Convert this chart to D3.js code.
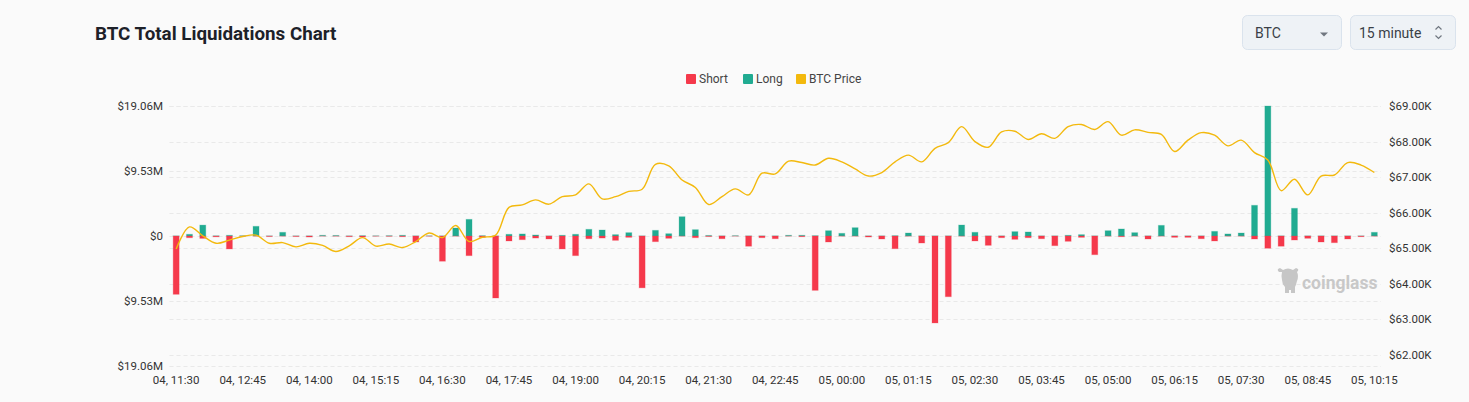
<!DOCTYPE html>
<html>
<head>
<meta charset="utf-8">
<script src="https://cdn.jsdelivr.net/npm/d3@7"></script>
<style>
  body { margin: 0; background: #fafafa; font-family: Roboto, "Noto Sans", sans-serif; }
  .tick-label { font-size: 11.5px; fill: #333; }
  .legend-text { font-size: 12px; fill: #444; }
</style>
</head>
<body>
<div id="chart"></div>
<script>
// Category labels (15 minute buckets)
var times = [
  "04, 11:30","04, 11:45","04, 12:00","04, 12:15","04, 12:30","04, 12:45","04, 13:00","04, 13:15","04, 13:30","04, 13:45",
  "04, 14:00","04, 14:15","04, 14:30","04, 14:45","04, 15:00","04, 15:15","04, 15:30","04, 15:45","04, 16:00","04, 16:15",
  "04, 16:30","04, 16:45","04, 17:00","04, 17:15","04, 17:30","04, 17:45","04, 18:00","04, 18:15","04, 18:30","04, 18:45",
  "04, 19:00","04, 19:15","04, 19:30","04, 19:45","04, 20:00","04, 20:15","04, 20:30","04, 20:45","04, 21:00","04, 21:15",
  "04, 21:30","04, 21:45","04, 22:00","04, 22:15","04, 22:30","04, 22:45","04, 23:00","04, 23:15","04, 23:30","04, 23:45",
  "05, 00:00","05, 00:15","05, 00:30","05, 00:45","05, 01:00","05, 01:15","05, 01:30","05, 01:45","05, 02:00","05, 02:15",
  "05, 02:30","05, 02:45","05, 03:00","05, 03:15","05, 03:30","05, 03:45","05, 04:00","05, 04:15","05, 04:30","05, 04:45",
  "05, 05:00","05, 05:15","05, 05:30","05, 05:45","05, 06:00","05, 06:15","05, 06:30","05, 06:45","05, 07:00","05, 07:15",
  "05, 07:30","05, 07:45","05, 08:00","05, 08:15","05, 08:30","05, 08:45","05, 09:00","05, 09:15","05, 09:30","05, 09:45",
  "05, 10:15"
];

// Short liquidations ($M, drawn below zero)
var shortVals = [
  8.55, 0.25, 0.35, 0.12, 1.9, 0.04, 0.02, 0.08, 0.02, 0.08,
  0.15, 0.02, 0.03, 0.1, 0.15, 0.03, 0.05, 0.1, 0.88, 0.03,
  3.7, 0.02, 2.88, 0.2, 9.09, 0.73, 0.54, 0.3, 0.44, 1.9,
  2.88, 0.4, 0.3, 0.64, 0.2, 7.6, 0.83, 0.34, 0.02, 0.25,
  0.08, 0.4, 0.02, 1.5, 0.25, 0.4, 0.02, 0.1, 7.97, 0.88,
  0.02, 0.02, 0.15, 0.44, 1.86, 0.02, 1.03, 12.75, 8.9, 0.02,
  0.73, 1.37, 0.25, 0.49, 0.25, 0.4, 1.42, 0.78, 0.2, 2.74,
  0.02, 0.1, 0.02, 0.44, 0.02, 0.2, 0.2, 0.4, 0.73, 0.02,
  0.02, 0.44, 1.8, 1.5, 0.59, 0.34, 0.88, 0.98, 0.44, 0.1,
  0.02
];

// Long liquidations ($M, drawn above zero)
var longVals = [
  0.02, 0.25, 1.6, 0.03, 0.1, 0.04, 1.42, 0.02, 0.54, 0.02,
  0.02, 0.1, 0.08, 0.02, 0.05, 0.03, 0.05, 0.1, 0.02, 0.03,
  0.02, 1.17, 2.44, 0.05, 0.02, 0.25, 0.3, 0.15, 0.02, 0.1,
  0.25, 0.98, 0.88, 0.2, 0.49, 0.02, 0.83, 0.34, 2.83, 0.93,
  0.08, 0.02, 0.05, 0.02, 0.02, 0.02, 0.1, 0.1, 0.05, 0.78,
  0.39, 1.22, 0.02, 0.02, 0.05, 0.44, 0.02, 0.02, 0.02, 1.61,
  0.54, 0.02, 0.02, 0.64, 0.59, 0.02, 0.02, 0.1, 0.2, 0.02,
  0.78, 1.03, 0.49, 0.02, 1.56, 0.02, 0.02, 0.02, 0.68, 0.3,
  0.44, 4.5, 19.06, 0.02, 4.06, 0.02, 0.02, 0.02, 0.02, 0.02,
  0.54
];

// BTC price ($K)
var priceVals = [
  64.98, 65.6, 65.35, 65.14, 65.23, 65.33, 65.37, 65.14, 65.16, 65.04,
  65.14, 65.08, 64.91, 65.07, 65.3, 65.06, 65.12, 65.02, 65.19, 65.43,
  65.3, 65.64, 65.19, 65.31, 65.37, 66.15, 66.22, 66.36, 66.24, 66.45,
  66.5, 66.81, 66.39, 66.45, 66.6, 66.66, 67.36, 67.32, 66.92, 66.71,
  66.23, 66.45, 66.67, 66.5, 67.11, 67.09, 67.45, 67.41, 67.34, 67.53,
  67.43, 67.23, 67.03, 67.13, 67.43, 67.62, 67.43, 67.81, 67.97, 68.42,
  68.0, 67.84, 68.27, 68.29, 68.06, 68.22, 68.09, 68.42, 68.48, 68.34,
  68.56, 68.18, 68.33, 68.26, 68.2, 67.72, 68.04, 68.25, 68.18, 67.88,
  68.04, 67.69, 67.48, 66.62, 66.94, 66.5, 67.03, 67.06, 67.41, 67.34,
  67.13
];

// Axis ticks
var leftTicks = [19.06, 9.53, 0, -9.53, -19.06];
var rightTicks = [69, 68, 67, 66, 65, 64, 63, 62];

// Colors
var shortColor = "#f5394b";
var longColor = "#20ab91";
var priceColor = "#f3b90d";

var svgWidth = 1469;
var svgHeight = 402;
var plot = { l: 169.5, r: 1381, t: 106, b: 366 };

var svg = d3.select("#chart")
    .append("svg")
    .attr("width", svgWidth)
    .attr("height", svgHeight)
    .style("display", "block");

// Title
svg.append("text")
    .attr("x", 95)
    .attr("y", 40)
    .style("font-size", "18.8px")
    .style("font-weight", "700")
    .style("fill", "#1d2129")
    .text("BTC Total Liquidations Chart");

// Dropdown boxes
var boxes = [
  { x: 1242, w: 99, label: "BTC" },
  { x: 1350, w: 105, label: "15 minute" }
];
boxes.forEach(function (b) {
    svg.append("rect")
        .attr("x", b.x + 0.5).attr("y", 15.5)
        .attr("width", b.w).attr("height", 34)
        .attr("rx", 5)
        .style("fill", "#eef2f6")
        .style("stroke", "#dae3ed");
    svg.append("text")
        .attr("x", b.x + (b.label == "BTC" ? 13 : 9))
        .attr("y", 38)
        .style("font-size", "14px")
        .style("fill", "#3a3f47")
        .text(b.label);
});
// caret for first box
svg.append("path")
    .attr("d", "M1320,32.5 L1328,32.5 L1324,36.5 Z")
    .style("fill", "#707780");
// up/down chevrons for second box
svg.append("path")
    .attr("d", "M1435.5,29.5 L1438.5,26.5 L1441.5,29.5 M1435.5,35.5 L1438.5,38.5 L1441.5,35.5")
    .style("fill", "none")
    .style("stroke", "#707780")
    .style("stroke-width", 1.2);

// Legend
var legendItems = [
  { x: 686, color: shortColor, label: "Short" },
  { x: 743, color: longColor, label: "Long" },
  { x: 796, color: priceColor, label: "BTC Price" }
];
var legend = svg.append("g");
legendItems.forEach(function (d) {
    legend.append("rect")
        .attr("x", d.x).attr("y", 74)
        .attr("width", 10).attr("height", 10)
        .attr("rx", 1)
        .style("fill", d.color);
    legend.append("text")
        .attr("class", "legend-text")
        .attr("x", d.x + 13)
        .attr("y", 83)
        .text(d.label);
});

// Scales
var xScale = d3.scaleBand()
    .domain(times)
    .range([plot.l, plot.r])
    .paddingInner(0.55)
    .paddingOuter(0.275);

var yLeft = d3.scaleLinear()
    .domain([-19.06, 19.06])
    .range([plot.b, plot.t]);

var yRight = d3.scaleLinear()
    .domain([61.69, 69])
    .range([plot.b, plot.t]);

// Grid lines (both axes)
var grid = svg.append("g");
leftTicks.map(yLeft).concat(rightTicks.map(yRight)).forEach(function (y) {
    grid.append("line")
        .attr("x1", plot.l).attr("x2", plot.r)
        .attr("y1", Math.round(y) + 0.5).attr("y2", Math.round(y) + 0.5)
        .style("stroke", "#e9e9e9")
        .style("stroke-dasharray", "4,3");
});

// Left axis labels
svg.append("g")
    .selectAll("text")
    .data(leftTicks)
    .enter()
    .append("text")
    .attr("class", "tick-label")
    .attr("x", 163)
    .attr("y", d => yLeft(d) + 4)
    .attr("text-anchor", "end")
    .text(d => "$" + (d == 0 ? "0" : Math.abs(d).toFixed(2) + "M"));

// Right axis labels
svg.append("g")
    .selectAll("text")
    .data(rightTicks)
    .enter()
    .append("text")
    .attr("class", "tick-label")
    .attr("x", 1389)
    .attr("y", d => yRight(d) + 4)
    .text(d => "$" + d.toFixed(2) + "K");

// X axis labels every 5 buckets
svg.append("g")
    .selectAll("text")
    .data(times.filter((d, i) => i % 5 == 0))
    .enter()
    .append("text")
    .attr("class", "tick-label")
    .attr("x", d => xScale(d) + xScale.bandwidth() / 2)
    .attr("y", 384)
    .attr("text-anchor", "middle")
    .text(d => d);

// Watermark
var wm = svg.append("g").style("fill", "#c6c6c6");
wm.append("path")
    .attr("d", "M1279,272 q-3,-3 1,-4 l3,2 q5,-3 10,0 l3,-2 q4,1 1,4 q2,4 0,9 q-1,4 -2,6 l0,6 l-4,0 l0,-3 l-2,0 l0,3 l-4,0 l0,-6 q-3,-3 -3,-7 q-1,-4 0,-8 Z");
wm.append("text")
    .attr("x", 1302)
    .attr("y", 289)
    .style("font-size", "17.5px")
    .style("font-weight", "700")
    .style("fill", "#c8c8c8")
    .text("coinglass");

// Bars
var zeroY = yLeft(0);
var barsG = svg.append("g");

barsG.selectAll("rect.long")
    .data(longVals)
    .enter()
    .append("rect")
    .attr("class", "long")
    .attr("x", (d, i) => xScale(times[i]))
    .attr("width", xScale.bandwidth())
    .attr("y", d => yLeft(d))
    .attr("height", d => zeroY - yLeft(d))
    .style("fill", longColor)
    .style("stroke", longColor)
    .style("stroke-opacity", 0.25)
    .style("stroke-width", 1);

barsG.selectAll("rect.short")
    .data(shortVals)
    .enter()
    .append("rect")
    .attr("class", "short")
    .attr("x", (d, i) => xScale(times[i]))
    .attr("width", xScale.bandwidth())
    .attr("y", zeroY)
    .attr("height", d => yLeft(-d) - zeroY)
    .style("fill", shortColor)
    .style("stroke", shortColor)
    .style("stroke-opacity", 0.25)
    .style("stroke-width", 1);

// Price line
var line = d3.line()
    .x((d, i) => xScale(times[i]) + xScale.bandwidth() / 2)
    .y(d => yRight(d))
    .curve(d3.curveCatmullRom.alpha(0.5));

svg.append("path")
    .datum(priceVals)
    .attr("d", line)
    .style("fill", "none")
    .style("stroke", priceColor)
    .style("stroke-width", 1.4);
</script>
</body>
</html>
